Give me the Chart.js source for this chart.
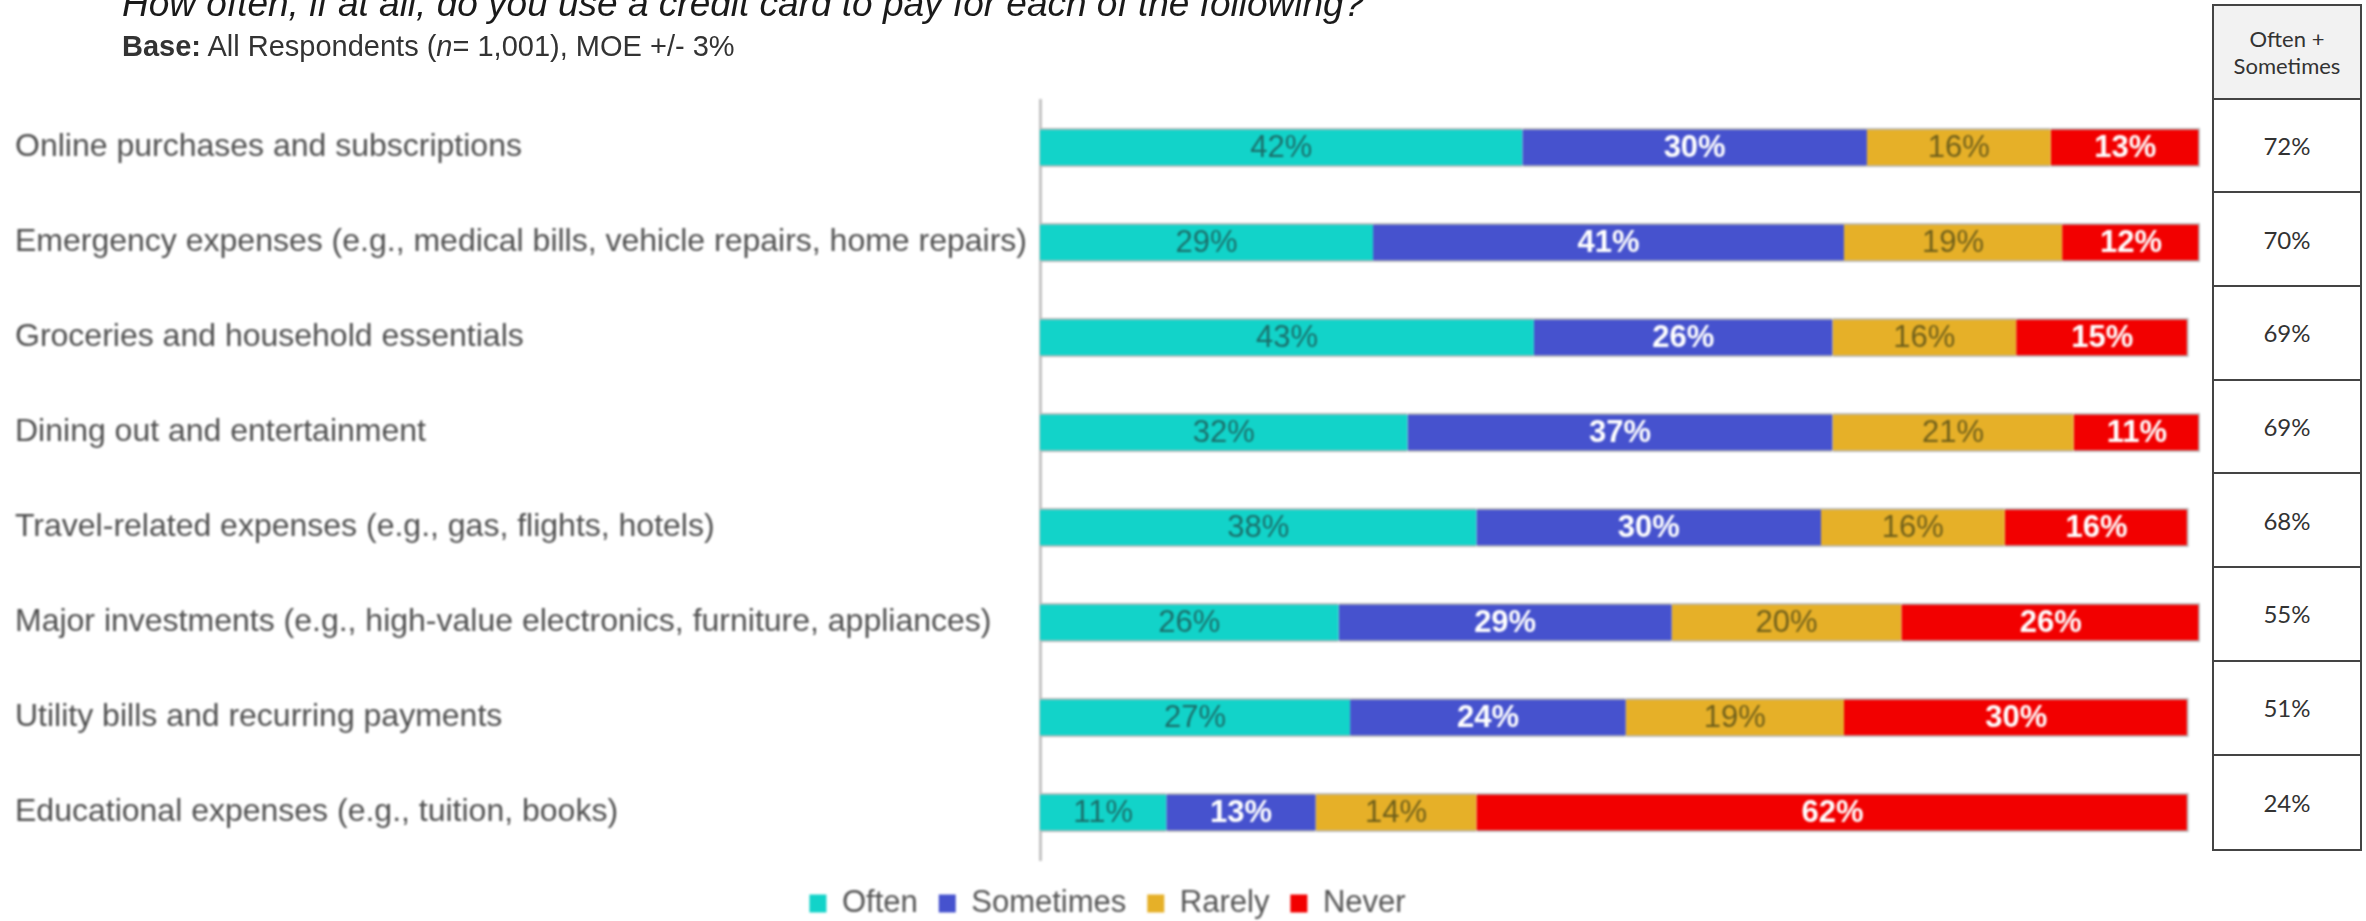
<!DOCTYPE html>
<html>
<head>
<meta charset="utf-8">
<script src="https://cdn.jsdelivr.net/npm/chart.js@4.4.1/dist/chart.umd.min.js"></script>
<style>
  html, body { margin: 0; padding: 0; background: #fff; overflow: hidden; width: 2366px; height: 921px; }
  #wrap { position: relative; width: 2366px; height: 921px; }
  #chart { position: absolute; left: 0; top: 0; filter: blur(0.9px); }
  .title { position: absolute; left: 122px; top: -15px; font: italic 37px/37px "Liberation Sans", Arial, sans-serif; color: #1a1a1a; white-space: nowrap; }
  .base { position: absolute; left: 122px; top: 32px; font: 29px/29px "Liberation Sans", Arial, sans-serif; color: #333; white-space: nowrap; }
  #net { position: absolute; left: 2212px; top: 4px; width: 150px; border: 2px solid #444; box-sizing: border-box; font-family: Lato, sans-serif; color: #333; background: #fff; }
  #net div { height: 93.7px; box-sizing: border-box; border-bottom: 2px solid #444; display: flex; align-items: center; justify-content: center; text-align: center; font-size: 24px; }
  #net div:last-child { border-bottom: none; }
  #net .head { background: #f2f2f2; font-size: 22px; line-height: 27px; }
</style>
</head>
<body>
<div id="wrap">
  <canvas id="chart" width="2240" height="929"></canvas>
  <div class="title">How often, if at all, do you use a credit card to pay for each of the following?</div>
  <div class="base"><b>Base:</b> All Respondents (<i>n</i>= 1,001), MOE +/- 3%</div>
  <div id="net"></div>
</div>
<script>
// Survey rows, top to bottom
const categories = [
  'Online purchases and subscriptions',
  'Emergency expenses (e.g., medical bills, vehicle repairs, home repairs)',
  'Groceries and household essentials',
  'Dining out and entertainment',
  'Travel-related expenses (e.g., gas, flights, hotels)',
  'Major investments (e.g., high-value electronics, furniture, appliances)',
  'Utility bills and recurring payments',
  'Educational expenses (e.g., tuition, books)'
];
const often     = [42, 29, 43, 32, 38, 26, 27, 11];
const sometimes = [30, 41, 26, 37, 30, 29, 24, 13];
const rarely    = [16, 19, 16, 21, 16, 20, 19, 14];
const never     = [13, 12, 15, 11, 16, 26, 30, 62];
const oftenPlusSometimes = [72, 70, 69, 69, 68, 55, 51, 24];

const seriesNames = ['Often', 'Sometimes', 'Rarely', 'Never'];
const seriesData = [often, sometimes, rarely, never];
const seriesColors = ['#12d3c9', '#4652ce', '#e6b028', '#f20000'];
const labelColors = ['#1b6e6a', '#ffffff', '#6f5f1a', '#ffffff'];
const labelWeights = ['normal', 'bold', 'normal', 'bold'];

const FONT = '"Liberation Sans", Arial, sans-serif';

// side table: Often + Sometimes
const net = document.getElementById('net');
net.innerHTML = '<div class="head">Often +<br>Sometimes</div>' +
  oftenPlusSometimes.map(v => '<div>' + v + '%</div>').join('');

// percentage text centred in each segment
const segmentLabels = {
  id: 'segmentLabels',
  afterDatasetsDraw(chart) {
    const ctx = chart.ctx;
    ctx.save();
    ctx.textAlign = 'center';
    ctx.textBaseline = 'middle';
    chart.data.datasets.forEach((ds, i) => {
      const meta = chart.getDatasetMeta(i);
      ctx.fillStyle = labelColors[i];
      ctx.font = labelWeights[i] + ' 31px ' + FONT;
      meta.data.forEach((bar, j) => {
        const { x, y, base } = bar.getProps(['x', 'y', 'base'], true);
        ctx.fillText(ds.data[j] + '%', (x + base) / 2, y + 1);
      });
    });
    ctx.restore();
  }
};

new Chart(document.getElementById('chart'), {
  type: 'bar',
  data: {
    labels: categories,
    datasets: seriesNames.map((name, i) => ({
      label: name,
      data: seriesData[i],
      backgroundColor: seriesColors[i],
      borderColor: '#bdbdbd',
      borderWidth: { top: 2, bottom: 2, left: 0, right: i === 3 ? 2 : 0 },
      borderSkipped: false,
      barThickness: 39
    }))
  },
  options: {
    indexAxis: 'y',
    responsive: false,
    animation: false,
    layout: { padding: { left: 15, right: 40, top: 100, bottom: 0 } },
    scales: {
      // invisible axis, only keeps a small gap above the legend
      x: {
        stacked: true, min: 0, max: 101,
        grid: { display: false },
        border: { display: false },
        ticks: { display: false },
        afterFit(scale) { scale.height = 7; }
      },
      y: {
        stacked: true,
        grid: { display: false },
        border: { display: true, color: '#c4c4c4', width: 3 },
        ticks: {
          color: '#505050',
          font: { family: FONT, size: 32 },
          crossAlign: 'far',
          autoSkip: false,
          padding: 0
        },
        afterFit(scale) { scale.width = 1025; }
      }
    },
    plugins: {
      tooltip: { enabled: false },
      legend: {
        position: 'bottom',
        labels: {
          color: '#555',
          font: { family: FONT, size: 31 },
          boxWidth: 17,
          boxHeight: 18,
          padding: 21,
          generateLabels(chart) {
            const items = Chart.defaults.plugins.legend.labels.generateLabels(chart);
            items.forEach(it => { it.lineWidth = 0; });
            return items;
          }
        }
      }
    }
  },
  plugins: [segmentLabels]
});
</script>
</body>
</html>
